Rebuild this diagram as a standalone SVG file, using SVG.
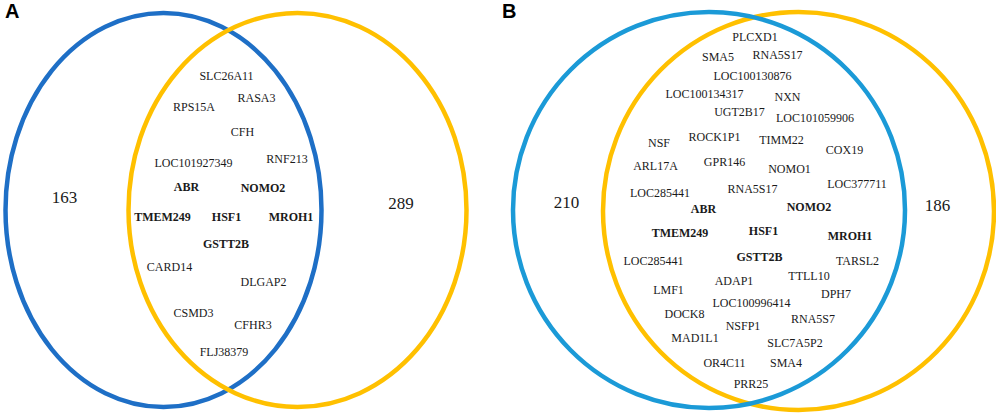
<svg xmlns="http://www.w3.org/2000/svg" width="996" height="414" viewBox="0 0 996 414">
<style>
.e{fill:none;stroke-width:4.5}
.bA{stroke:#1e6fc6}
.bB{stroke:#1b9ad7}
.y{stroke:#ffc000}
text{font-family:"Liberation Serif","Times New Roman",serif;fill:#1a1a1a;text-anchor:middle}
.g{font-size:12px}
.b{font-size:12px;font-weight:bold}
.n{font-size:17px}
.p{font-family:"Liberation Sans",Arial,sans-serif;font-size:20px;font-weight:bold;text-anchor:start;fill:#000}
</style>
<rect width="996" height="414" fill="#fff"/>
<g id="panelA">
<text class="p" x="5" y="18">A</text>
<g id="setA-left"><ellipse class="e bA" cx="163.5" cy="210" rx="158" ry="197"/></g>
<g id="setA-right"><ellipse class="e y" cx="297.5" cy="210" rx="169" ry="197"/></g>
<g id="countA-left"><text class="n" x="64.5" y="203">163</text></g>
<g id="countA-right"><text class="n" x="401" y="209">289</text></g>
<g id="overlapA">
<text class="g" x="226.5" y="80">SLC26A11</text>
<text class="g" x="194" y="111">RPS15A</text>
<text class="g" x="256.5" y="102">RASA3</text>
<text class="g" x="242.5" y="136">CFH</text>
<text class="g" x="193.5" y="167">LOC101927349</text>
<text class="g" x="287" y="163">RNF213</text>
<text class="b" x="186.5" y="191">ABR</text>
<text class="b" x="263" y="192">NOMO2</text>
<text class="b" x="162.5" y="221">TMEM249</text>
<text class="b" x="226.5" y="221">HSF1</text>
<text class="b" x="291" y="221">MROH1</text>
<text class="b" x="226" y="248">GSTT2B</text>
<text class="g" x="169.5" y="271">CARD14</text>
<text class="g" x="263.5" y="286">DLGAP2</text>
<text class="g" x="193.5" y="317">CSMD3</text>
<text class="g" x="253" y="329">CFHR3</text>
<text class="g" x="224" y="356">FLJ38379</text>
</g>
</g>
<g id="panelB">
<text class="p" x="502" y="18">B</text>
<g id="setB-right"><ellipse class="e y" cx="798.5" cy="211" rx="195.5" ry="199"/></g>
<g id="setB-left"><ellipse class="e bB" cx="709" cy="210" rx="196" ry="198"/></g>
<g id="countB-left"><text class="n" x="566.5" y="208">210</text></g>
<g id="countB-right"><text class="n" x="937.5" y="211">186</text></g>
<g id="overlapB">
<text class="g" x="755" y="41">PLCXD1</text>
<text class="g" x="718" y="61">SMA5</text>
<text class="g" x="777.5" y="59">RNA5S17</text>
<text class="g" x="752.5" y="80">LOC100130876</text>
<text class="g" x="704.5" y="98">LOC100134317</text>
<text class="g" x="787.5" y="101">NXN</text>
<text class="g" x="739.5" y="116">UGT2B17</text>
<text class="g" x="815" y="122">LOC101059906</text>
<text class="g" x="659" y="147">NSF</text>
<text class="g" x="714.5" y="141">ROCK1P1</text>
<text class="g" x="781.5" y="144">TIMM22</text>
<text class="g" x="844.5" y="154">COX19</text>
<text class="g" x="655.5" y="170">ARL17A</text>
<text class="g" x="724.5" y="166">GPR146</text>
<text class="g" x="789.5" y="173">NOMO1</text>
<text class="g" x="660" y="197">LOC285441</text>
<text class="g" x="752.5" y="193">RNA5S17</text>
<text class="g" x="857" y="188">LOC377711</text>
<text class="b" x="703.5" y="213">ABR</text>
<text class="b" x="809" y="211">NOMO2</text>
<text class="b" x="680" y="237">TMEM249</text>
<text class="b" x="763.5" y="235">HSF1</text>
<text class="b" x="850" y="240">MROH1</text>
<text class="b" x="759.5" y="261">GSTT2B</text>
<text class="g" x="857.5" y="265">TARSL2</text>
<text class="g" x="653.5" y="265">LOC285441</text>
<text class="g" x="734" y="285">ADAP1</text>
<text class="g" x="809" y="280">TTLL10</text>
<text class="g" x="668.5" y="294">LMF1</text>
<text class="g" x="751.5" y="307">LOC100996414</text>
<text class="g" x="836" y="298">DPH7</text>
<text class="g" x="684.5" y="318">DOCK8</text>
<text class="g" x="743" y="330">NSFP1</text>
<text class="g" x="813" y="323">RNA5S7</text>
<text class="g" x="695" y="342">MAD1L1</text>
<text class="g" x="795" y="347">SLC7A5P2</text>
<text class="g" x="724.5" y="367">OR4C11</text>
<text class="g" x="786" y="367">SMA4</text>
<text class="g" x="751" y="388">PRR25</text>
</g>
</g>
</svg>
